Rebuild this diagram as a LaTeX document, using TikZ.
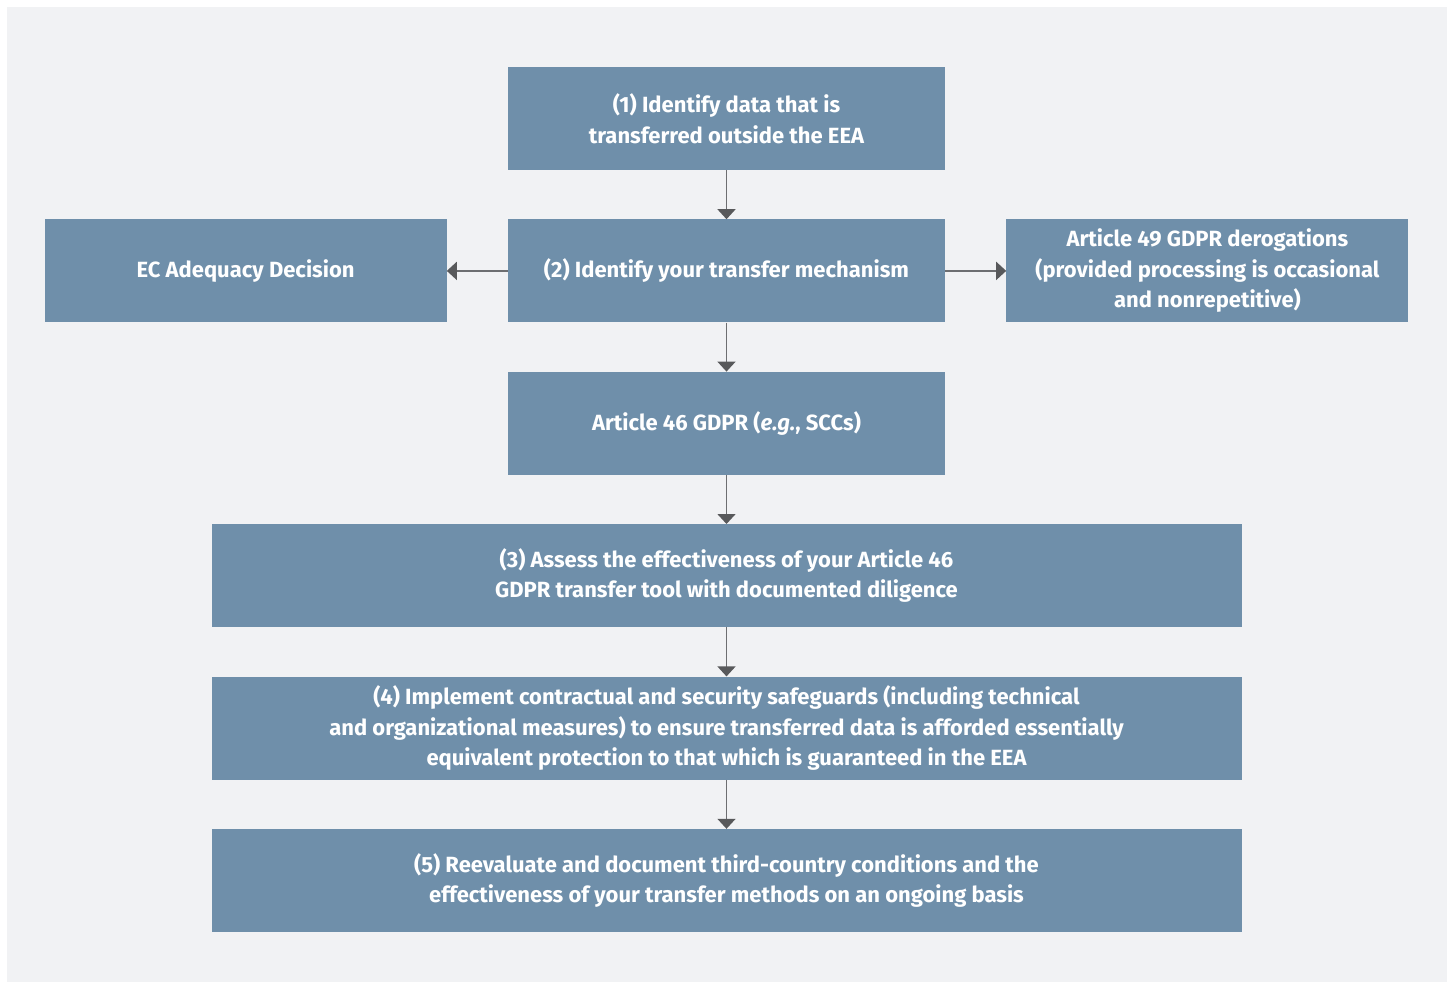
\documentclass[tikz,border=0pt]{standalone}
\usepackage{fontspec}
\setmainfont{Fira Sans}
\usepackage{tikz}
\usetikzlibrary{positioning, arrows.meta, backgrounds}

\definecolor{boxblue}{HTML}{6F8FAA}
\definecolor{panelgray}{HTML}{F1F2F4}
\definecolor{linegray}{HTML}{6D6E71}
\definecolor{headgray}{HTML}{58595B}

\begin{document}
\begin{tikzpicture}[x=1pt, y=-1pt,
node distance=49pt and 61pt,
block/.style={draw=none, fill=boxblue, rectangle, text=white, align=center,
  font=\fontsize{22}{30.5}\selectfont\bfseries, inner sep=0pt,
  minimum width=437pt, minimum height=103pt},
wide/.style={block, minimum width=1030pt},
side/.style={block, minimum width=402pt},
flow/.style={draw=linegray, line width=1.6pt,
  -{Triangle[width=18pt, length=10pt, color=headgray]}}]

% background
\useasboundingbox[fill=white] (0,0) rectangle (1448,982);
\fill[panelgray] (7,7) rectangle (1447,982);

\node[block] (1) at (726.5,118.5) {(1) Identify data that is\\ transferred outside the EEA};
\node[block] (2)[below=of 1] {(2) Identify your transfer mechanism};
\node[side]  (L)[left=of 2]  {EC Adequacy Decision};
\node[side]  (R)[right=of 2] {Article 49 GDPR derogations\\ (provided processing is occasional\\ and nonrepetitive)};
\node[block] (A)[below=of 2] {Article 46 GDPR (\textit{e.g.}, SCCs)};
\node[wide]  (3)[below=of A] {(3) Assess the effectiveness of your Article 46\\ GDPR transfer tool with documented diligence};
\node[wide]  (4)[below=of 3] {(4) Implement contractual and security safeguards (including technical\\ and organizational measures) to ensure transferred data is afforded essentially\\ equivalent protection to that which is guaranteed in the EEA};
\node[wide]  (5)[below=of 4] {(5) Reevaluate and document third-country conditions and the\\ effectiveness of your transfer methods on an ongoing basis};

\path[flow]
 (1) edge (2)
 (2) edge (L)
 (2) edge (R)
 (2) edge (A)
 (A) edge (3)
 (3) edge (4)
 (4) edge (5);

\end{tikzpicture}
\end{document}
